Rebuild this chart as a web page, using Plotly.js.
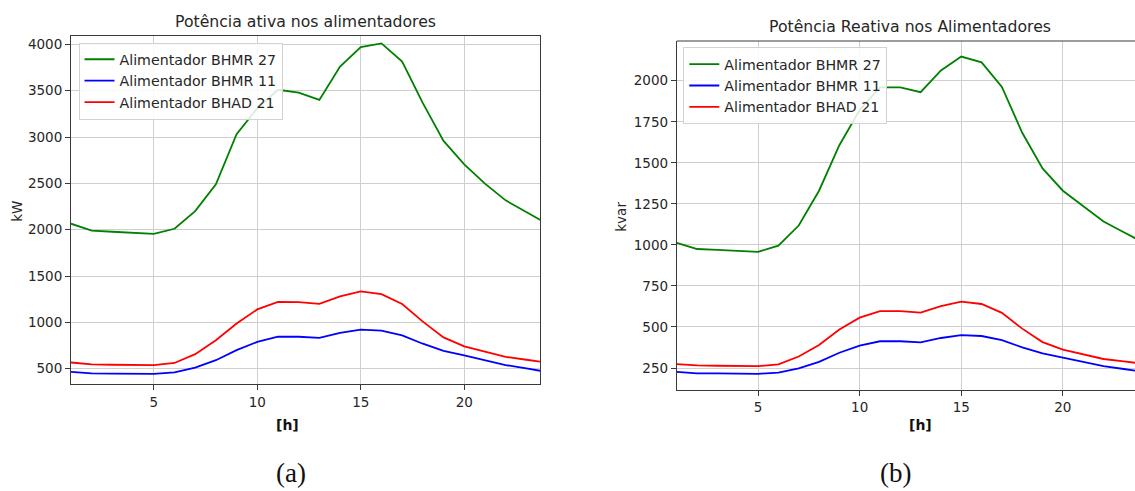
<!DOCTYPE html>
<html>
<head>
<meta charset="utf-8">
<script src="https://cdn.plot.ly/plotly-3.0.1.min.js"></script>
<style>html,body{margin:0;padding:0;background:#fff;}#chart{width:1135px;height:491px;}</style>
</head>
<body>
<div id="chart"></div>
<script>
// ---------- data ----------
const hours = [1,2,3,4,5,6,7,8,9,10,11,12,13,14,15,16,17,18,19,20,21,22,23,24];
const seriesNames = ["Alimentador BHMR 27", "Alimentador BHMR 11", "Alimentador BHAD 21"];

// Active power [kW]
const pBHMR27 = [2065,1990,1978,1966,1955,2010,2200,2490,3030,3310,3510,3480,3400,3760,3970,4010,3815,3365,2958,2705,2497,2317,2190,2065];
const pBHMR11 = [465,450,448,446,445,460,512,592,700,790,845,845,832,886,922,912,860,770,692,644,594,540,503,466];
const pBHAD21 = [567,547,543,540,538,562,657,808,988,1140,1220,1218,1200,1280,1335,1305,1198,1008,838,742,682,628,597,565];

// Reactive power [kvar]
const qBHMR27 = [1013,975,970,965,958,995,1118,1330,1607,1822,1960,1960,1930,2063,2147,2112,1962,1683,1466,1330,1234,1142,1077,1012];
const qBHMR11 = [226,218,217,216,215,222,248,288,343,386,413,413,406,433,450,445,420,376,339,314,288,262,244,226];
const qBHAD21 = [274,266,264,263,261,272,320,390,485,557,597,597,587,627,654,640,586,490,408,362,334,305,290,276];

const xTicks = [5,10,15,20];
const yTicksP = [500,1000,1500,2000,2500,3000,3500,4000];
const yTicksQ = [250,500,750,1000,1250,1500,1750,2000];

const titleP = "Potência ativa nos alimentadores";
const titleQ = "Potência Reativa nos Alimentadores";
const unitP = "kW";
const unitQ = "kvar";
const xLabel = "<b>[h]</b>";
const captions = ["(a)", "(b)"];

// ---------- chart ----------
const W = 1135, H = 491;
const px = v => v / W;
const py = v => 1 - v / H;
const colors = ["green", "#0000ff", "#ff0000"];
const font = "DejaVu Sans";
const txt = "#262626";

function mk(y, i, xa, ya, lg) {
  return {x: hours, y: y, name: seriesNames[i], type: "scatter", mode: "lines",
          line: {color: colors[i], width: 1.8}, xaxis: xa, yaxis: ya, legend: lg};
}
const traces = [
  mk(pBHMR27,0,"x","y","legend"), mk(pBHMR11,1,"x","y","legend"), mk(pBHAD21,2,"x","y","legend"),
  mk(qBHMR27,0,"x2","y2","legend2"), mk(qBHMR11,1,"x2","y2","legend2"), mk(qBHAD21,2,"x2","y2","legend2")
];

const axBase = {
  showgrid: true, gridcolor: "#cfcfcf", gridwidth: 1, zeroline: false,
  showline: true, linecolor: "#3a3a3a", linewidth: 1,
  ticks: "outside", ticklen: 5, tickcolor: "#3a3a3a", tickwidth: 1,
  tickfont: {family: font, size: 13.5, color: txt}, fixedrange: true
};

const legBase = {
  bgcolor: "rgba(255,255,255,0.85)", bordercolor: "#d2d2d2", borderwidth: 1,
  font: {family: font, size: 14.2, color: txt}, xanchor: "left", yanchor: "top",
  tracegroupgap: 0
};

const annFont = {family: font, size: 15.7, color: txt};
const capFont = {family: "Liberation Serif", size: 27, color: "#111"};
const layout = {
  width: W, height: H, margin: {l: 0, r: 0, t: 0, b: 0},
  paper_bgcolor: "#fff", plot_bgcolor: "#fff", showlegend: true,
  xaxis: Object.assign({}, axBase, {domain: [px(71), px(540)], range: [1, 23.66], tickvals: xTicks, anchor: "y", mirror: true}),
  yaxis: Object.assign({}, axBase, {domain: [py(384.3), py(36)], range: [332, 4090], tickvals: yTicksP, anchor: "x", mirror: true}),
  xaxis2: Object.assign({}, axBase, {domain: [px(676.8), 1], range: [1, 23.55], tickvals: xTicks, anchor: "y2", mirror: false}),
  yaxis2: Object.assign({}, axBase, {domain: [py(389.7), py(41)], range: [118, 2242], tickvals: yTicksQ, anchor: "x2", mirror: false}),
  legend: Object.assign({}, legBase, {x: px(78.5), y: py(42.5)}),
  legend2: Object.assign({}, legBase, {x: px(683.3), y: py(47.3)}),
  shapes: [
    {type: "line", xref: "x2 domain", yref: "y2 domain", x0: 0, x1: 1, y0: 1, y1: 1, line: {color: "#3a3a3a", width: 1}}
  ],
  annotations: [
    {text: titleP, xref: "paper", yref: "paper", x: px(305.5), y: py(21.7), xanchor: "center", yanchor: "middle", showarrow: false, font: annFont},
    {text: titleQ, xref: "paper", yref: "paper", x: px(910), y: py(26.7), xanchor: "center", yanchor: "middle", showarrow: false, font: annFont},
    {text: unitP, xref: "paper", yref: "paper", x: px(17), y: py(211.7), textangle: -90, xanchor: "center", yanchor: "middle", showarrow: false, font: {family: font, size: 13.5, color: txt}},
    {text: unitQ, xref: "paper", yref: "paper", x: px(621), y: py(216.7), textangle: -90, xanchor: "center", yanchor: "middle", showarrow: false, font: {family: font, size: 13.5, color: txt}},
    {text: xLabel, xref: "paper", yref: "paper", x: px(287), y: py(425), xanchor: "center", yanchor: "middle", showarrow: false, font: {family: font, size: 14, color: "#111"}},
    {text: xLabel, xref: "paper", yref: "paper", x: px(920.7), y: py(425), xanchor: "center", yanchor: "middle", showarrow: false, font: {family: font, size: 14, color: "#111"}},
    {text: captions[0], xref: "paper", yref: "paper", x: px(291), y: 0, xanchor: "center", yanchor: "bottom", yshift: 1, showarrow: false, font: capFont},
    {text: captions[1], xref: "paper", yref: "paper", x: px(895), y: 0, xanchor: "center", yanchor: "bottom", yshift: 1, showarrow: false, font: capFont}
  ]
};

Plotly.newPlot("chart", traces, layout, {staticPlot: true, displayModeBar: false});
</script>
</body>
</html>
